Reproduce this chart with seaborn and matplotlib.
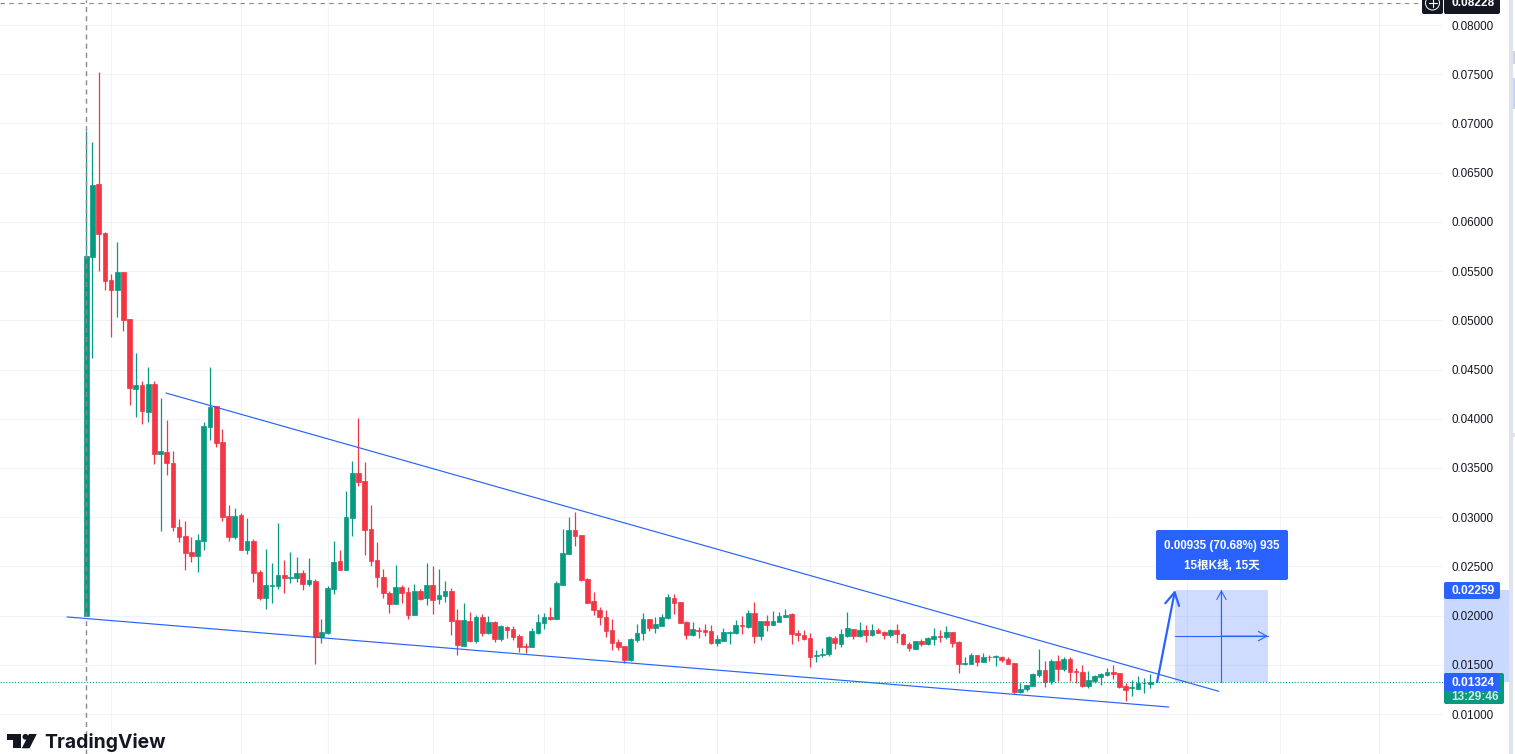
import matplotlib
matplotlib.use("Agg")
import matplotlib.pyplot as plt
from matplotlib.patches import Rectangle, FancyBboxPatch, Polygon, Circle
import numpy as np
import pandas as pd
import seaborn as sns

open_ = [.0200,.0564,.0638,.0589,.0541,.0531,.0549,.0501,.0430,.0434,
 .0407,.0435,.0364,.0366,.0355,.0290,.0281,.0265,.0261,.0276,
 .0392,.0413,.0376,.0301,.0280,.0302,.0267,.0276,.0244,.0218,
 .0230,.0230,.0241,.0238,.0238,.0243,.0232,.0235,.0178,.0182,
 .0227,.0255,.0246,.0299,.0345,.0337,.0288,.0256,.0239,.0223,
 .0212,.0229,.0224,.0201,.0225,.0218,.0231,.0217,.0220,.0225,
 .0196,.0169,.0195,.0174,.0199,.0182,.0193,.0176,.0188,.0186,
 .0179,.0169,.0168,.0182,.0192,.0199,.0197,.0231,.0263,.0287,
 .0282,.0237,.0215,.0206,.0199,.0185,.0173,.0169,.0155,.0175,
 .0182,.0197,.0187,.0189,.0198,.0218,.0214,.0193,.0180,.0185,
 .0185,.0184,.0172,.0174,.01827,.0182,.0190,.0188,.0203,.0179,
 .0195,.0190,.0193,.0199,.0202,.0182,.0180,.0177,.0159,.0160,
 .0161,.0177,.0171,.0179,.0186,.0179,.0185,.0180,.0185,.0183,
 .0180,.0185,.0181,.0171,.0166,.0174,.0171,.0176,.0179,.0178,
 .0183,.0173,.0151,.0151,.0160,.0153,.0158,.0158,.0158,.0156,
 .0152,.0122,.0125,.0128,.0140,.0145,.0134,.0154,.0146,.0156,
 .01436,.0143,.0128,.0134,.0138,.0140,.0143,.0142,.0128,.0126,
 .0125,.0131,.0130]
close = [.0565,.0637,.0588,.0540,.0531,.0549,.0500,.0431,.0434,.0408,
 .0435,.0364,.0367,.0355,.0290,.0280,.0264,.0261,.0277,.0393,
 .0412,.0375,.0300,.0280,.0301,.0267,.0276,.0243,.0218,.0231,
 .0231,.0241,.0238,.0239,.0243,.0232,.0236,.0178,.0183,.0228,
 .0254,.0246,.0300,.0345,.0336,.0287,.0255,.0239,.0223,.0212,
 .0229,.0223,.0201,.0225,.0217,.0231,.0216,.0221,.0225,.0194,
 .0170,.0196,.0174,.0199,.0182,.0193,.0176,.0189,.0185,.0178,
 .0168,.01685,.0184,.0193,.0199,.0197,.0233,.0264,.0287,.0281,
 .0236,.0213,.0206,.0199,.0184,.0172,.0168,.0155,.0176,.0182,
 .0197,.0187,.0191,.0199,.0219,.0213,.0192,.0180,.0186,.01845,
 .0183,.0172,.0176,.0183,.0183,.0190,.01895,.0203,.0179,.0195,
 .0190,.0194,.0200,.0201,.0181,.0180,.0176,.0158,.0160,.01605,
 .0178,.0172,.0181,.0187,.0179,.0185,.0180,.0185,.0182,.0180,
 .0185,.0181,.0171,.0167,.0174,.0171,.0177,.0179,.01785,.0183,
 .0172,.0151,.0152,.0160,.0153,.0158,.01575,.0159,.0155,.0151,
 .0122,.01255,.0129,.0141,.0145,.0133,.0154,.0146,.0156,.0143,
 .0143,.0128,.0135,.0139,.0141,.0143,.0141,.0127,.01245,.0127,
 .0132,.0132,.01324]
high = [.0692,.0681,.0752,.0590,.0547,.0580,.0549,.0501,.0467,.0438,
 .0453,.0438,.0421,.0399,.0367,.0298,.0296,.0280,.0283,.0397,
 .0453,.0413,.0390,.0312,.0309,.0304,.0299,.0278,.0246,.0268,
 .0253,.0294,.0256,.0265,.0260,.0246,.0259,.0237,.0197,.0230,
 .0276,.0267,.0327,.0357,.0401,.0356,.0312,.0275,.0247,.0225,
 .0251,.0231,.0229,.0232,.0227,.0253,.0250,.0247,.0235,.0228,
 .0207,.0213,.0204,.0201,.0202,.0200,.0194,.0190,.0189,.0189,
 .0181,.0172,.0187,.0202,.0203,.0209,.0235,.0288,.0300,.0305,
 .0282,.0238,.0224,.0209,.0206,.0197,.0176,.0169,.0177,.0191,
 .0203,.0197,.0199,.0202,.0222,.0222,.0214,.0194,.0193,.0188,
 .0191,.0190,.0180,.0187,.0184,.0196,.0200,.0206,.0214,.0195,
 .0201,.0205,.0204,.0207,.0203,.0185,.0185,.0182,.0165,.0167,
 .0179,.0179,.0186,.0204,.0186,.0193,.0190,.0191,.0187,.0184,
 .0186,.0191,.0182,.0173,.0174,.0176,.0178,.0187,.0185,.0189,
 .0183,.0174,.0158,.0162,.0160,.0162,.0160,.0160,.0159,.0158,
 .0152,.0131,.0129,.0142,.0166,.0154,.0156,.0160,.0158,.0158,
 .0147,.0150,.0144,.0140,.0142,.0147,.0150,.0142,.0132,.0135,
 .0139,.0137,.0141]
low = [.0200,.0462,.0550,.0531,.0483,.0503,.0489,.0414,.0402,.0395,
 .0397,.0354,.0286,.0343,.0286,.0275,.0246,.0254,.0244,.0267,
 .0378,.0371,.0296,.0276,.0278,.0267,.0263,.0234,.0216,.0207,
 .0213,.0227,.0223,.0233,.0234,.0226,.0230,.0151,.0172,.0181,
 .0222,.0246,.0246,.0281,.0332,.0262,.0250,.0229,.0218,.0203,
 .0212,.0213,.0197,.0201,.0216,.0211,.0202,.0212,.0214,.0180,
 .0160,.0169,.0173,.0172,.0179,.0181,.0173,.0174,.0177,.0175,
 .0163,.0162,.0168,.0181,.0186,.0196,.0197,.0231,.0263,.0271,
 .0235,.0213,.0201,.0190,.0178,.0165,.0165,.0152,.0154,.0173,
 .0175,.0184,.0182,.0189,.0197,.0202,.0192,.0176,.0179,.0177,
 .0179,.0171,.0169,.0174,.0171,.0181,.0181,.0187,.0172,.0175,
 .0184,.0190,.0193,.0199,.0171,.0174,.0175,.0148,.0153,.0158,
 .0159,.0166,.0168,.0178,.0176,.0178,.0173,.0179,.0182,.0176,
 .0178,.0172,.0170,.0164,.0166,.0169,.0170,.0170,.0173,.0176,
 .0168,.0142,.0150,.0151,.0149,.0153,.0154,.0149,.0153,.0151,
 .0120,.0121,.0123,.0128,.0138,.0127,.0130,.0134,.0144,.0134,
 .0132,.0127,.0126,.0132,.0129,.0139,.0136,.0126,.0113,.0118,
 .0125,.0121,.0126]

price_ticks = [.01,.015,.02,.025,.03,.035,.04,.045,.05,.055,.06,.065,.07,.075,.08]
time_grid = [4,25,39,56,74,87,102,117,130,148,165,178,193,209]
upper_x, upper_y = [12.88,183.06], [.04261,.01231]
lower_x, lower_y = [-3.12,175.0], [.01986,.01071]
arrow_x, arrow_y = [173.1,176.0], [.01324,.02259]
range_start, range_end = 176, 191
range_low, range_high = .01324, .02259
last_price = .01324
cross_price = .08228
cross_bar = 0
range_text = ["0.00935 (70.68%) 935", "15根K线, 15天"]

TEAL, RED, BLUE, INK = "#089981", "#F23645", "#2962FF", "#131722"
sans = ["Liberation Sans", "Noto Sans CJK SC", "DejaVu Sans"]

sns.set_theme(style="white")
plt.rcParams["font.family"] = sans

W, H = 1515, 754
fig = plt.figure(figsize=(W/100, H/100), dpi=100, facecolor="white")

# background layer, beneath the price labels
bg = fig.add_axes([0, 0, 1, 1], zorder=-1)
bg.set_xlim(0, W); bg.set_ylim(H, 0); bg.axis("off")
bg.add_patch(Rectangle((1444, 590), 65, 91.5, fc="#C9D8FF", lw=0))
bg.add_patch(Rectangle((1509, 0), 4, H, fc="#E0E3EB", lw=0))
bg.add_patch(Rectangle((1513, 51), 2, 13, fc="#D1D4DC", lw=0))
bg.add_patch(Rectangle((1513, 78), 2, 31, fc="#BBD9FB", lw=0))
bg.add_patch(Rectangle((1513, 433), 2, 4, fc="#E0E3EB", lw=0))

ax = fig.add_axes([0, 0, 1443/W, 1], zorder=1)
ax.patch.set_visible(False)

df = pd.DataFrame({"bar": np.arange(len(open_)), "open": open_, "close": close, "high": high, "low": low})
df["base"] = df[["open", "close"]].min(axis=1)
df["size"] = (df["close"] - df["open"]).abs()
df["up"] = df["close"] >= df["open"]

for is_up, colour in ((True, TEAL), (False, RED)):
    part = df[df["up"] == is_up]
    ax.vlines(part["bar"], part["low"], part["high"], color=colour, lw=0.9, zorder=3)
    sns.barplot(data=part, x="bar", y="size", native_scale=True, errorbar=None, color=colour,
                saturation=1, width=0.76, bottom=part["base"].values, ax=ax, zorder=4,
                edgecolor=colour, linewidth=0.5)

sns.lineplot(x=upper_x, y=upper_y, color=BLUE, lw=0.85, ax=ax, zorder=5, estimator=None, sort=False)
sns.lineplot(x=lower_x, y=lower_y, color=BLUE, lw=0.85, ax=ax, zorder=5, estimator=None, sort=False)

# long-position range box
ax.add_patch(Rectangle((range_start, range_low), range_end-range_start, range_high-range_low,
                       fc=BLUE, alpha=0.22, lw=0, zorder=2))
mid_bar = (range_start+range_end)/2
mid_price = (range_low+range_high)/2
ax.plot([mid_bar, mid_bar], [range_low, range_high], color=BLUE, lw=0.8, zorder=5)
ax.plot([range_start, range_end], [mid_price, mid_price], color=BLUE, lw=0.8, zorder=5)
ax.annotate("", xy=(mid_bar, range_high), xytext=(mid_bar, mid_price), zorder=5,
            arrowprops=dict(arrowstyle="->,head_length=0.5,head_width=0.28", color=BLUE, lw=0.8, shrinkA=0, shrinkB=0))
ax.annotate("", xy=(range_end, mid_price), xytext=(mid_bar, mid_price), zorder=5,
            arrowprops=dict(arrowstyle="->,head_length=0.5,head_width=0.28", color=BLUE, lw=0.8, shrinkA=0, shrinkB=0))
ax.annotate("", xy=(arrow_x[1], arrow_y[1]), xytext=(arrow_x[0], arrow_y[0]), zorder=6,
            arrowprops=dict(arrowstyle="->,head_length=0.75,head_width=0.42", color=BLUE, lw=1.6, shrinkA=0, shrinkB=0))

# crosshair and last price line
ax.axvline(cross_bar, color="#868993", lw=1.0, dashes=(3.6, 3), zorder=7)
ax.axhline(cross_price, color="#868993", lw=0.8, dashes=(4, 4), zorder=7)
ax.axhline(last_price, color=TEAL, lw=0.8, dashes=(1, 1.6), zorder=6)

ax.set_xlim((0-86.3)/6.186, (1443-86.3)/6.186)
ax.set_ylim(.08-(754-25)/9843, .08+25/9843)
ax.set_yticks(price_ticks)
ax.set_yticklabels([f"{p:.5f}" for p in price_ticks], fontsize=8.4, color=INK)
ax.yaxis.tick_right()
ax.tick_params(axis="y", length=0, pad=6.2)
ax.set_xticks(time_grid)
ax.tick_params(axis="x", length=0, labelbottom=False)
ax.set_xlabel(""); ax.set_ylabel("")
ax.grid(True, color="#F0F3FA", lw=0.75, zorder=0)
ax.set_axisbelow(True)
for s in ax.spines.values():
    s.set_visible(False)
if ax.get_legend():
    ax.get_legend().remove()

# interface overlay in pixel coordinates
ui = fig.add_axes([0, 0, 1, 1], facecolor="none", zorder=2)
ui.set_xlim(0, W); ui.set_ylim(H, 0); ui.axis("off")

def tag(x0, x1, y0, y1, fc, z=3):
    ui.add_patch(FancyBboxPatch((x0+2, y0+2), x1-x0-4, y1-y0-4, boxstyle="round,pad=2,rounding_size=2",
                                fc=fc, lw=0, zorder=z))

# message box
tag(1156, 1288, 530, 580, BLUE)
ui.text(1222, 546, range_text[0], color="white", fontsize=8.4, ha="center", va="center", weight="bold", zorder=5)
ui.text(1222, 566, range_text[1], color="white", fontsize=8.4, ha="center", va="center", weight="bold", zorder=5)

# axis tags
tag(1444, 1500, 582, 599, BLUE)
ui.text(1473, 591, "0.02259", color="white", fontsize=8.6, ha="center", va="center", weight="bold", zorder=5)
tag(1444, 1504, 673, 704, TEAL, z=3)
tag(1444, 1500, 673, 691, BLUE, z=4)
ui.text(1473, 682.5, "0.01324", color="white", fontsize=8.6, ha="center", va="center", weight="bold", zorder=5)
ui.text(1475, 696.5, "13:29:46", color="#CDEBE5", fontsize=8.6, ha="center", va="center", weight="bold", zorder=5)

# crosshair tags
tag(1422, 1443, -6, 14, INK)
tag(1444, 1500, -6, 14, INK)
ui.text(1473, 3, "0.08228", color="white", fontsize=8.6, ha="center", va="center", weight="bold", zorder=5)
ui.add_patch(Circle((1432.5, 3), 7, fc="none", ec="white", lw=0.7, zorder=5))
ui.plot([1428.5, 1436.5], [3, 3], color="white", lw=0.8, zorder=5)
ui.plot([1432.5, 1432.5], [-1, 7], color="white", lw=0.8, zorder=5)

# logo
ui.add_patch(Polygon([(7.3,734),(20.7,734),(20.7,748.3),(13.3,748.3),(13.3,740),(7.3,740)], fc=INK, lw=0, zorder=5))
ui.add_patch(Circle((25.4,736.8), 2.9, fc=INK, lw=0, zorder=5))
ui.add_patch(Polygon([(29,734),(36.8,734),(29.5,748.3),(21.8,748.3)], fc=INK, lw=0, zorder=5))
ui.text(44.5, 748.3, "TradingView", color=INK, fontsize=13.9, family="Inter", weight="bold", ha="left", va="baseline", zorder=5)

fig.savefig("out.png", dpi=100, facecolor="white")
